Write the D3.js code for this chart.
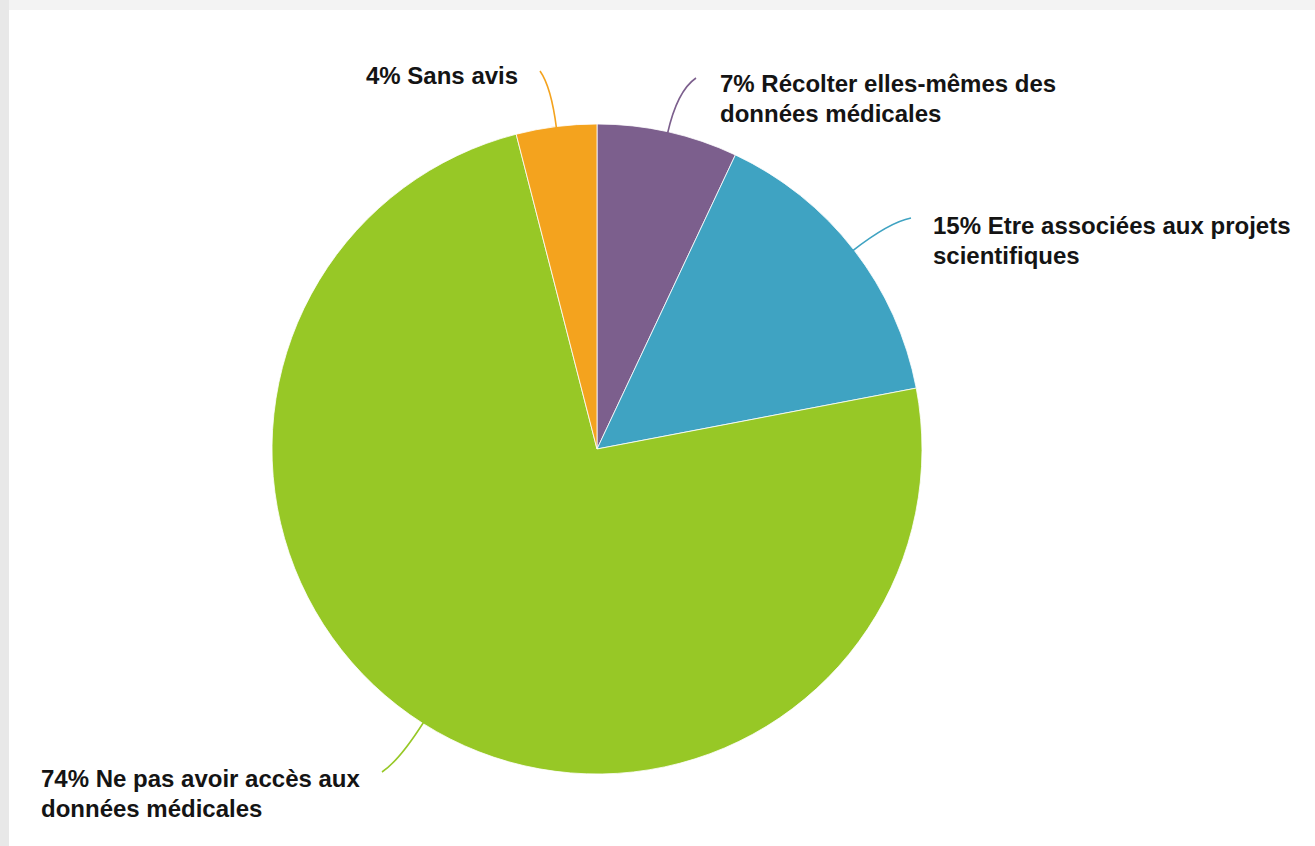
<!DOCTYPE html>
<html>
<head>
<meta charset="utf-8">
<script src="https://cdn.jsdelivr.net/npm/d3@7"></script>
<style>
  html, body { margin: 0; padding: 0; background: #f3f3f3; }
  svg { display: block; }
</style>
</head>
<body>
<script>
// slices clockwise from 12 o'clock
var labels = [
  ["7% Récolter elles-mêmes des", "données médicales"],
  ["15% Etre associées aux projets", "scientifiques"],
  ["74% Ne pas avoir accès aux", "données médicales"],
  ["4% Sans avis"]
];
var values = [7, 15, 74, 4];
var colors = ["#7c5f8d", "#3fa3c2", "#97c826", "#f4a31e"];

// label anchors (x, first baseline) and leader line end points
var labelPos = [[720, 92], [933, 234], [41, 787], [366, 84]];
var lineEnd = [[696, 78], [911, 218], [382, 772], [540, 71]];

var width = 1315, height = 846;
var cx = 597, cy = 449, radius = 325;

var svg = d3.select("body").append("svg")
    .attr("width", width)
    .attr("height", height);

svg.append("rect")
    .attr("x", 0).attr("y", 0)
    .attr("width", 9).attr("height", height)
    .attr("fill", "#e8e8e8");

svg.append("rect")
    .attr("x", 9).attr("y", 10)
    .attr("width", width - 9).attr("height", height - 10)
    .attr("fill", "#ffffff");

var pie = d3.pie().sort(null).value(function(d) { return d; });
var arc = d3.arc().innerRadius(0).outerRadius(radius);
var arcs = pie(values);

var g = svg.append("g").attr("transform", "translate(" + cx + "," + cy + ")");

g.selectAll("path.slice")
    .data(arcs)
    .enter().append("path")
      .attr("class", "slice")
      .attr("d", arc)
      .attr("fill", function(d, i) { return colors[i]; })
      .attr("stroke", "#ffffff")
      .attr("stroke-width", 0.8);

// leader lines
svg.selectAll("path.leader")
    .data(arcs)
    .enter().append("path")
      .attr("class", "leader")
      .attr("fill", "none")
      .attr("stroke", function(d, i) { return colors[i]; })
      .attr("stroke-width", 1.6)
      .attr("d", function(d, i) {
        var a = (d.startAngle + d.endAngle) / 2;
        var dx = Math.sin(a), dy = -Math.cos(a);
        var sx = cx + dx * (radius - 2), sy = cy + dy * (radius - 2);
        var e = lineEnd[i];
        var len = Math.hypot(e[0] - sx, e[1] - sy) * 0.7;
        var qx = sx + dx * len, qy = sy + dy * len;
        return "M" + sx + "," + sy + "Q" + qx + "," + qy + " " + e[0] + "," + e[1];
      });

var text = svg.selectAll("text.lbl")
    .data(labels)
    .enter().append("text")
      .attr("class", "lbl")
      .attr("x", function(d, i) { return labelPos[i][0]; })
      .attr("y", function(d, i) { return labelPos[i][1]; })
      .attr("font-family", "'Liberation Sans', Arial, sans-serif")
      .attr("font-weight", "bold")
      .attr("font-size", 24)
      .attr("fill", "#141414");

text.selectAll("tspan")
    .data(function(d, i) { return d.map(function(t) { return { t: t, i: i }; }); })
    .enter().append("tspan")
      .attr("x", function(d) { return labelPos[d.i][0]; })
      .attr("dy", function(d, j) { return j === 0 ? 0 : 30; })
      .text(function(d) { return d.t; });
</script>
</body>
</html>
